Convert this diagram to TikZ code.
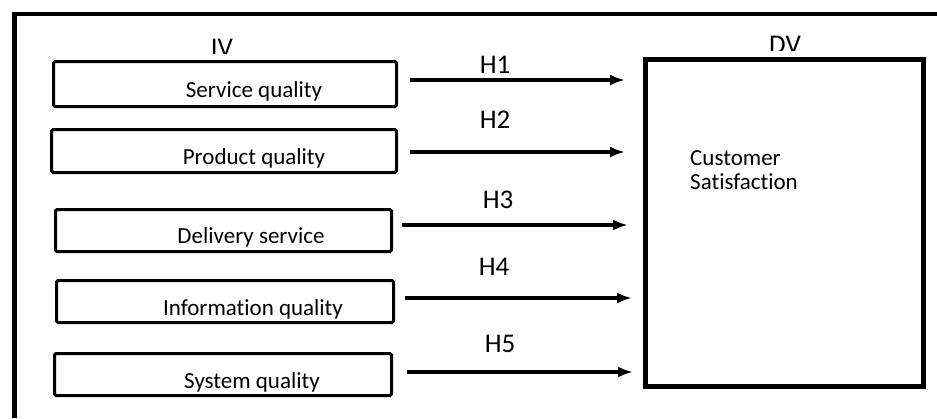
\documentclass[tikz,border=0pt]{standalone}
\usepackage{fontspec}
\setmainfont[Ligatures=NoCommon]{Carlito}
\usetikzlibrary{arrows.meta}
\begin{document}
\begin{tikzpicture}[x=1pt,y=-1pt,
  ivbox/.style={draw, line width=3pt, rounded corners=1.5pt, inner sep=0pt, fill=white},
  boxtext/.style={anchor=base, inner sep=0pt, font=\fontsize{23}{26}\selectfont},
  hyp/.style={anchor=base, inner sep=0pt, font=\fontsize{27}{30}\selectfont},
  arr/.style={line width=4pt, -{Latex[length=15pt,width=11pt]}},
]
\useasboundingbox (0,0) rectangle (937,418);
% outer frame (only top and left edges visible)
\draw[line width=4.5pt] (14.5,418) -- (14.5,14) -- (937,14);
% labels IV / DV (cut off at the bottom as in the original)
\begin{scope}
\clip (150,20) rectangle (300,53.5);
\node[hyp] (iv) at (222,56) {IV};
\end{scope}
\begin{scope}
\clip (700,20) rectangle (880,50.5);
\node[hyp] (dvl) at (785,53.5) {DV};
\end{scope}
% IV boxes
\node[ivbox, minimum width=343pt, minimum height=45pt] (s1) at (225,84) {};
\node[ivbox, minimum width=345pt, minimum height=43pt] (s2) at (224,151) {};
\node[ivbox, minimum width=336pt, minimum height=42pt] (s3) at (223.5,230.5) {};
\node[ivbox, minimum width=337pt, minimum height=42pt] (s4) at (225,301.5) {};
\node[ivbox, minimum width=337pt, minimum height=42pt] (s5) at (223,374.5) {};
\node[boxtext] (t1) at (254,97) {Service quality};
\node[boxtext] (t2) at (254,164) {Product quality};
\node[boxtext] (t3) at (251,243) {Delivery service};
\node[boxtext] (t4) at (253,315) {Information quality};
\node[boxtext] (t5) at (252,388) {System quality};
% DV box
\node[draw, line width=5pt, fill=white, inner sep=0pt, minimum width=278pt, minimum height=327pt] (dv) at (784.5,223) {};
\node[anchor=base west, inner sep=0pt, align=left, font=\fontsize{23}{24}\selectfont] (cs) at (690,189) {Customer\\Satisfaction};
% arrow levels
\coordinate (y1) at (0,80);
\coordinate (y2) at (0,152);
\coordinate (y3) at (0,225);
\coordinate (y4) at (0,298);
\coordinate (y5) at (0,372);
\draw[arr, shorten <=12pt, shorten >=18pt] (s1.east |- y1) -- (dv.west |- y1);
\draw[arr, shorten <=12pt, shorten >=18pt] (s2.east |- y2) -- (dv.west |- y2);
\draw[arr, shorten <=9pt, shorten >=15pt] (s3.east |- y3) -- (dv.west |- y3);
\draw[arr, shorten <=10pt, shorten >=11pt] (s4.east |- y4) -- (dv.west |- y4);
\draw[arr, shorten <=14pt, shorten >=10pt] (s5.east |- y5) -- (dv.west |- y5);
% hypothesis labels
\node[hyp] (h1) at (495,73) {H1};
\node[hyp] (h2) at (495,128) {H2};
\node[hyp] (h3) at (498,208) {H3};
\node[hyp] (h4) at (494,275) {H4};
\node[hyp] (h5) at (500,352) {H5};
\end{tikzpicture}
\end{document}
